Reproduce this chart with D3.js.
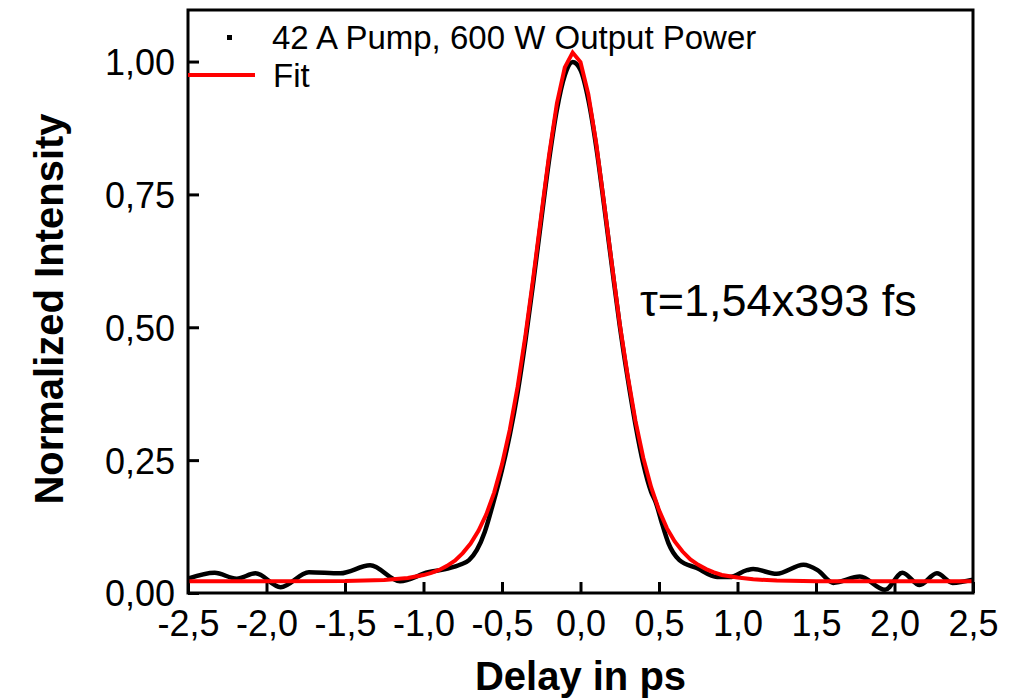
<!DOCTYPE html>
<html>
<head>
<meta charset="utf-8">
<script src="https://cdn.jsdelivr.net/npm/d3@7"></script>
<style>
  body { margin: 0; background: #fff; }
  text { font-family: "Liberation Sans", Arial, sans-serif; }
</style>
</head>
<body>
<div id="chart"></div>
<script>
// measured autocorrelation trace (delay in ps, normalized intensity)
var dataDelay = [-2.5, -2.33, -2.19, -2.07, -1.91, -1.73, -1.53, -1.34, -1.15, -0.97, -0.86, -0.76, -0.71, -0.66, -0.61, -0.56,
  -0.5, -0.45, -0.4, -0.35, -0.3, -0.25, -0.2, -0.15, -0.1, -0.05, 0.0, 0.05, 0.1, 0.15, 0.2, 0.25, 0.3, 0.35, 0.4, 0.45,
  0.48, 0.52, 0.56, 0.63, 0.74, 0.87, 0.95, 1.06, 1.10, 1.25, 1.42, 1.51, 1.61, 1.78, 1.94, 2.05, 2.16, 2.27, 2.37, 2.5];
var dataIntensity = [0.027, 0.038, 0.027, 0.037, 0.011, 0.039, 0.037, 0.052, 0.022, 0.039, 0.045, 0.054, 0.062, 0.081, 0.115, 0.165,
  0.232, 0.298, 0.378, 0.476, 0.586, 0.702, 0.815, 0.910, 0.974, 0.999, 0.984, 0.928, 0.840, 0.730, 0.615, 0.503, 0.405, 0.317, 0.243, 0.190,
  0.170, 0.130, 0.094, 0.062, 0.047, 0.030, 0.030, 0.043, 0.045, 0.036, 0.053, 0.043, 0.019, 0.031, 0.006, 0.038, 0.015, 0.037, 0.019, 0.025];

// fit curve
var fitDelay = [-2.5, -2.0, -1.5, -1.25, -1.1, -1.0, -0.95, -0.9, -0.85, -0.8, -0.75, -0.7, -0.65, -0.6, -0.55, -0.5, -0.45, -0.4,
  -0.35, -0.3, -0.25, -0.2, -0.15, -0.1, -0.05, 0.0, 0.05, 0.1, 0.15, 0.2, 0.25, 0.3, 0.35, 0.4, 0.45, 0.5, 0.55, 0.6, 0.65,
  0.7, 0.75, 0.8, 0.85, 0.9, 1.0, 1.1, 1.25, 1.5, 2.0, 2.5];
var fitIntensity = [0.022, 0.022, 0.0224, 0.0246, 0.0284, 0.0337, 0.0378, 0.0434, 0.051, 0.061, 0.075, 0.093, 0.117, 0.148, 0.189, 0.242, 0.308, 0.389,
  0.486, 0.595, 0.711, 0.824, 0.922, 0.989, 1.017, 0.999, 0.938, 0.846, 0.734, 0.618, 0.506, 0.410, 0.324, 0.254, 0.199, 0.156, 0.122, 0.097, 0.078,
  0.063, 0.053, 0.045, 0.039, 0.034, 0.029, 0.0257, 0.0235, 0.0222, 0.022, 0.022];

var xTicks = [-2.5, -2.0, -1.5, -1.0, -0.5, 0.0, 0.5, 1.0, 1.5, 2.0, 2.5];
var yTicks = [0, 0.25, 0.5, 0.75, 1.0];

var svgWidth = 1018;
var svgHeight = 700;
var margin = { top: 10, right: 45, bottom: 107, left: 188 };
var width = svgWidth - margin.left - margin.right;
var height = svgHeight - margin.top - margin.bottom;

var svg = d3.select("#chart")
  .append("svg")
  .attr("width", svgWidth)
  .attr("height", svgHeight);

var chartGroup = svg.append("g")
  .attr("transform", `translate(${margin.left}, ${margin.top})`);

var xScale = d3.scaleLinear().domain([-2.5, 2.5]).range([0, width]);
var yScale = d3.scaleLinear().domain([0, 1.097]).range([height, 0]);

// comma decimals and a plain hyphen for negatives
var commaFmt = function(digits) {
  return function(d) { return d.toFixed(digits).replace(".", ","); };
};

chartGroup.append("clipPath")
  .attr("id", "plotClip")
  .append("rect")
  .attr("width", width)
  .attr("height", height);

// axes with inward ticks
var bottomAxis = d3.axisBottom(xScale)
  .tickValues(xTicks)
  .tickFormat(commaFmt(1))
  .tickSizeInner(-11)
  .tickSizeOuter(0)
  .tickPadding(17);

var leftAxis = d3.axisLeft(yScale)
  .tickValues(yTicks)
  .tickFormat(commaFmt(2))
  .tickSizeInner(-11)
  .tickSizeOuter(0)
  .tickPadding(13);

var xAxis = chartGroup.append("g")
  .attr("transform", `translate(0, ${height})`)
  .call(bottomAxis);

var yAxis = chartGroup.append("g")
  .call(leftAxis);

[xAxis, yAxis].forEach(function(ax) {
  ax.select(".domain").remove();
  ax.selectAll(".tick line").attr("stroke", "#000").attr("stroke-width", 3);
  ax.selectAll(".tick text")
    .attr("fill", "#000")
    .style("font-size", "36px")
    .style("font-family", "'Liberation Sans', Arial, sans-serif");
});
xAxis.selectAll(".tick text").attr("dy", "0.71em");
yAxis.selectAll(".tick text").attr("dy", "0.36em");

var plotLines = chartGroup.append("g").attr("clip-path", "url(#plotClip)");

var dataLine = d3.line()
  .x((d, i) => xScale(dataDelay[i]))
  .y(d => yScale(d))
  .curve(d3.curveMonotoneX);

var fitLine = d3.line()
  .x((d, i) => xScale(fitDelay[i]))
  .y(d => yScale(d));

plotLines.append("path")
  .datum(dataIntensity)
  .attr("d", dataLine)
  .attr("fill", "none")
  .attr("stroke", "#000")
  .attr("stroke-width", 4.5)
  .attr("stroke-linejoin", "round");

plotLines.append("path")
  .datum(fitIntensity)
  .attr("d", fitLine)
  .attr("fill", "none")
  .attr("stroke", "#ff0000")
  .attr("stroke-width", 4)
  .attr("stroke-linejoin", "miter");

// frame
chartGroup.append("rect")
  .attr("width", width)
  .attr("height", height)
  .attr("fill", "none")
  .attr("stroke", "#000")
  .attr("stroke-width", 3);

// legend
chartGroup.append("rect")
  .attr("x", 39)
  .attr("y", 25)
  .attr("width", 5)
  .attr("height", 5)
  .attr("fill", "#000");

chartGroup.append("text")
  .attr("x", 84)
  .attr("y", 39)
  .style("font-size", "33px")
  .text("42 A Pump, 600 W Output Power");

chartGroup.append("line")
  .attr("x1", 0)
  .attr("x2", 67)
  .attr("y1", 65)
  .attr("y2", 65)
  .attr("stroke", "#ff0000")
  .attr("stroke-width", 4);

chartGroup.append("text")
  .attr("x", 85)
  .attr("y", 77)
  .style("font-size", "33px")
  .text("Fit");

// annotation
chartGroup.append("text")
  .attr("x", 452)
  .attr("y", 306)
  .style("font-size", "45px")
  .text("τ=1,54x393 fs");

// axis titles
svg.append("text")
  .attr("x", margin.left + width / 2)
  .attr("y", 690)
  .attr("text-anchor", "middle")
  .style("font-size", "40px")
  .style("font-weight", "bold")
  .text("Delay in ps");

svg.append("text")
  .attr("transform", "translate(63, 309) rotate(-90)")
  .attr("text-anchor", "middle")
  .style("font-size", "40px")
  .style("font-weight", "bold")
  .text("Normalized Intensity");
</script>
</body>
</html>
